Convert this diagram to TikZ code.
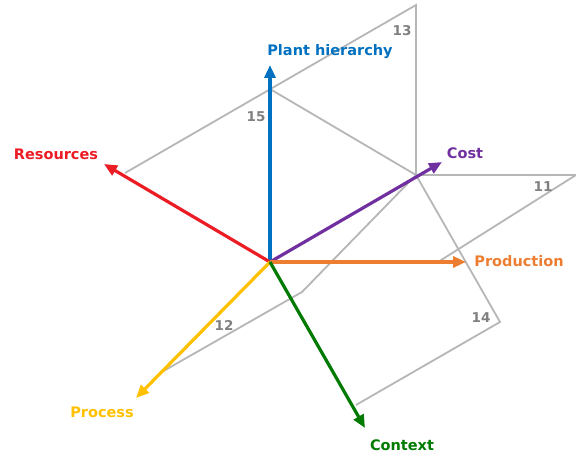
\documentclass[tikz,border=0pt]{standalone}
\usepackage{fontspec}
\setmainfont{DejaVu Sans}
\usetikzlibrary{positioning}
\usetikzlibrary{arrows.meta}
\definecolor{phblue}{RGB}{0,112,192}
\definecolor{resred}{RGB}{235,28,36}
\definecolor{costpurple}{RGB}{112,48,160}
\definecolor{prodorange}{RGB}{237,125,49}
\definecolor{procyellow}{RGB}{255,192,0}
\definecolor{ctxgreen}{RGB}{0,122,0}
\definecolor{planegray}{RGB}{182,182,182}
\definecolor{numgray}{RGB}{128,128,128}
\tikzset{
  axis/.style={line width=3.2pt, -{Triangle[length=13pt,width=11pt]}},
  plane/.style={draw=planegray, line width=1.8pt},
  axislabel/.style={font=\fontsize{14.5}{16}\selectfont\bfseries},
  planelabel/.style={font=\fontsize{13.5}{15}\selectfont\bfseries, text=numgray}
}

\begin{document}
\begin{tikzpicture}[x=1pt,y=-1pt]
    \useasboundingbox (0,0) rectangle (576,457);

    % origin and arrow tips
    \coordinate (O) at (270,262);
    \coordinate (ph) at (270,65);
    \coordinate (res) at (104,164);
    \coordinate (cost) at (442,162);
    \coordinate (prod) at (466,262);
    \coordinate (proc) at (136,398);
    \coordinate (ctx) at (365,428);

    % plane corners
    \coordinate (C) at (416,175);
    \coordinate (top) at (416,5);
    \coordinate (a15) at (125,173);
    \coordinate (b15) at (270,89);
    \coordinate (r11) at (576,175);
    \coordinate (e11) at (438,262);
    \coordinate (m12) at (302,292);
    \coordinate (e12) at (160,373);
    \coordinate (q14) at (500,322);
    \coordinate (e14) at (356,405);

    \draw [plane] (a15) -- (top) -- (C);
    \draw [plane] (b15) -- (C);
    \draw [plane] (C) -- (r11) -- (e11);
    \draw [plane] (C) -- (m12) -- (e12);
    \draw [plane] (C) -- (q14) -- (e14);

    \foreach \tip/\col in {ph/phblue, res/resred, cost/costpurple, prod/prodorange, proc/procyellow, ctx/ctxgreen} {
        \draw [axis, \col] (O) -- (\tip);
    }

    \node [axislabel, text=phblue] (lph) at (330,52) {Plant hierarchy};
    \node [axislabel, text=resred] (lres) at (56,154) {Resources};
    \node [axislabel, text=costpurple] (lcost) at (465,153) {Cost};
    \node [axislabel, text=prodorange] (lprod) at (519,261) {Production};
    \node [axislabel, text=procyellow] (lproc) at (102,412) {Process};
    \node [axislabel, text=ctxgreen] (lctx) at (402,445) {Context};

    \node [planelabel] (n13) at (402,31) {13};
    \node [planelabel] (n15) at (256,117) {15};
    \node [planelabel] (n11) at (543,187) {11};
    \node [planelabel] (n14) at (481,318) {14};
    \node [planelabel] (n12) at (224,325) {12};
\end{tikzpicture}
\end{document}
